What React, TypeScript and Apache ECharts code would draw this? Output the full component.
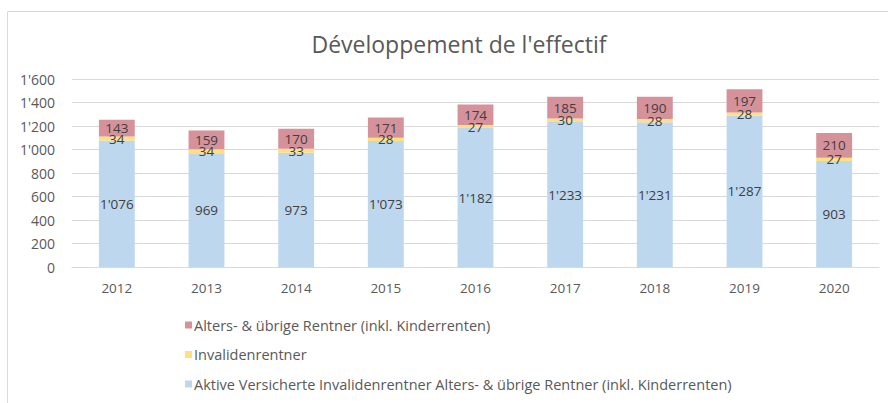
import React, { useEffect, useRef } from "react";
import * as echarts from "echarts";

const years = ["2012", "2013", "2014", "2015", "2016", "2017", "2018", "2019", "2020"];
const aktive = [1076, 969, 973, 1073, 1182, 1233, 1231, 1287, 903];
const invaliden = [34, 34, 33, 28, 27, 30, 28, 28, 27];
const alters = [143, 159, 170, 171, 174, 185, 190, 197, 210];
const yTicks = [0, 200, 400, 600, 800, 1000, 1200, 1400, 1600];

const nameAlters = "Alters- & übrige Rentner (inkl. Kinderrenten)";
const nameInv = "Invalidenrentner";
const nameAkt = "Aktive Versicherte Invalidenrentner Alters- & übrige Rentner (inkl. Kinderrenten)";

const fmt = (v: number) => {
  const s = String(Math.round(v));
  return s.replace(/\B(?=(\d{3})+(?!\d))/g, "'");
};

const FONT = "'Open Sans', sans-serif";

export default function App() {
  const ref = useRef<HTMLDivElement>(null);
  useEffect(() => {
    if (!ref.current) return;
    const chart = echarts.init(ref.current, undefined, { renderer: "svg" });
    const label = {
      show: true,
      position: "inside" as const,
      color: "#404040",
      fontSize: 13.5,
      fontFamily: FONT,
      formatter: (p: any) => fmt(p.value),
    };
    chart.setOption({
      animation: false,
      textStyle: { fontFamily: FONT },
      title: {
        text: "Développement de l'effectif",
        left: 454,
        textAlign: "center",
        top: 27,
        textStyle: { fontSize: 23, fontWeight: "normal", color: "#595959", fontFamily: FONT },
      },
      graphic: [
        {
          type: "rect",
          shape: { x: 7.5, y: 11.5, width: 920, height: 420 },
          style: { fill: "none", stroke: "#D9D9D9", lineWidth: 1 },
          silent: true,
        },
      ],
      legend: {
        orient: "vertical",
        left: 180,
        top: 312,
        itemWidth: 7,
        itemHeight: 7,
        itemGap: 13.5,
        icon: "rect",
        data: [nameAlters, nameInv, nameAkt],
        textStyle: { fontSize: 14.5, color: "#595959", fontFamily: FONT, lineHeight: 16, padding: [0, 0, 0, -3] },
      },
      grid: { left: 72, right: 9, top: 79, height: 188, containLabel: false },
      xAxis: {
        type: "category",
        data: years,
        axisLine: { lineStyle: { color: "#D9D9D9", width: 1 } },
        axisTick: { show: false },
        axisLabel: { color: "#595959", fontSize: 13.5, fontFamily: FONT, margin: 14 },
      },
      yAxis: {
        type: "value",
        min: yTicks[0],
        max: yTicks[yTicks.length - 1],
        interval: 200,
        axisLine: { show: false },
        axisTick: { show: false },
        splitLine: { lineStyle: { color: "#D9D9D9", width: 1 } },
        axisLabel: { color: "#595959", fontSize: 14, fontFamily: FONT, margin: 17, formatter: (v: number) => fmt(v) },
      },
      series: [
        {
          name: nameAkt,
          type: "bar",
          stack: "a",
          data: aktive,
          barWidth: "40%",
          itemStyle: { color: "#BDD7EE" },
          label,
        },
        {
          name: nameInv,
          type: "bar",
          stack: "a",
          data: invaliden,
          itemStyle: { color: "#FFE07F" },
          label,
        },
        {
          name: nameAlters,
          type: "bar",
          stack: "a",
          data: alters,
          itemStyle: { color: "#D5929B" },
          label,
        },
      ],
    });
    return () => chart.dispose();
  }, []);
  return <div ref={ref} style={{ position: "absolute", left: 0, top: 0, width: 888, height: 403 }} />;
}
